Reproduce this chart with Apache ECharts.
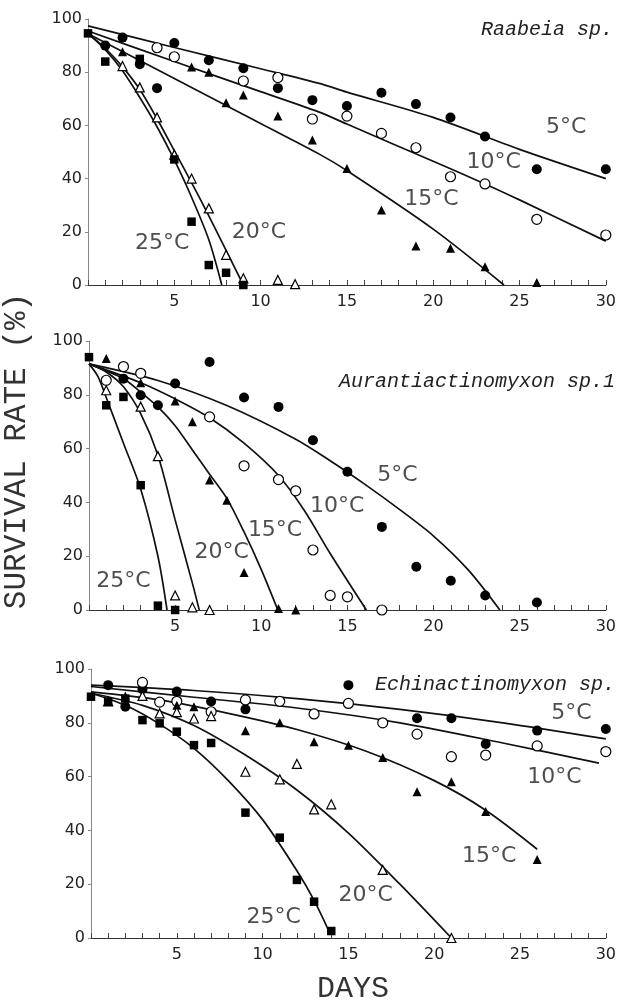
<!DOCTYPE html>
<html><head><meta charset="utf-8">
<script src="https://cdn.jsdelivr.net/npm/echarts@6/dist/echarts.min.js"></script>
<style>html,body{margin:0;padding:0;background:#fff}#c{width:619px;height:1003px}</style>
</head><body><div id="c"></div>
<script>
// ---------- tick labels ----------
const X_LABELS = [5, 10, 15, 20, 25, 30];
const Y_TICKS = [0, 20, 40, 60, 80, 100];
const TEMPS = ['5°C', '10°C', '15°C', '20°C', '25°C'];
const SPECIES = ['Raabeia sp.', 'Aurantiactinomyxon sp.1', 'Echinactinomyxon sp.'];

// ---------- Panel 1: Raabeia sp. (observed points) ----------
const r5  = [[1,90],[2,93],[3,83],[4,74],[5,91],[7,84.5],[9,81.5],[11,74],[13,69.5],[15,67.3],[17,72.3],[19,68],[21,63],[23,55.8],[26,43.5],[30,43.5]];
const r10 = [[4,89.2],[5,85.8],[9,76.7],[11,78],[13,62.4],[15,63.5],[17,57],[19,51.6],[21,40.7],[23,38],[26,24.7],[30,18.8]];
const r15 = [[2,87.7],[6,82],[7,80],[8,68.5],[9,71.4],[11,63.5],[13,54.5],[15,43.8],[17,28.2],[19,14.7],[21,13.8],[23,6.9],[26,0.9]];
const r20 = [[2,82.3],[3,74.3],[4,63],[5,49],[6,40],[7,28.8],[8,11.3],[9,2.5],[11,1.9],[12,0.3]];
const r25 = [[0,94.6],[1,84],[3,85],[5,47.2],[6,23.8],[7,7.5],[8,4.6],[9,0]];
// fitted curves
const fr5  = [[0,97.4],[5,89.3],[10,81.3],[13.4,75.8],[15,72.5],[20,63],[25,51],[30,40]];
const fr10 = [[0,95.5],[5,84],[10,72.7],[13.4,65],[15,60.5],[20,46.5],[23,38],[25,32],[30,16.5]];
const fr15 = [[0,94.5],[5,77.6],[10,60.7],[13.4,49.2],[15,43],[20,21],[24.1,0]];
const fr20 = [[0,94.5],[1,89],[2,82],[3,73.5],[4,62.5],[5,50.5],[6,38.5],[7,26],[8,13],[9,0]];
const fr25 = [[0,94.5],[1,88.5],[2,80.5],[3,70.5],[4,59.5],[5,47],[6,33],[7,17],[7.75,0]];

// ---------- Panel 2: Aurantiactinomyxon sp.1 ----------
const a5  = [[2,86],[3,79.8],[4,76.1],[5,84.2],[7,92.2],[9,79],[11,75.5],[13,63.1],[15,51.4],[17,30.9],[19,16.1],[21,10.9],[23,5.4],[26,2.8]];
const a10 = [[1,85.4],[2,90.5],[3,88],[7,71.8],[9,53.6],[11,48.5],[12,44.3],[13,22.3],[14,5.4],[15,4.9],[17,0]];
const a15 = [[1,93.5],[3,84.5],[5,77.7],[6,70],[7,48.3],[8,40.8],[9,13.9],[11,0.6],[12,0]];
const a20 = [[1,81.7],[3,75.6],[4,57.2],[5,5.4],[6,1],[7,0]];
const a25 = [[0,94],[1,76.1],[2,79.2],[3,46.4],[4,1.6],[5,0]];
const fa5  = [[0,91.5],[4,85.3],[8,76],[12,63.5],[14,55.5],[16,46.8],[18,37.5],[20,27.5],[22,15],[23.85,0]];
const fa10 = [[0,91.5],[3,84.5],[5,78.5],[7,71.5],[9,62],[11,50],[12.5,37],[14,21],[16.1,0]];
const fa15 = [[0,91.5],[2,86],[3,81],[4,75.5],[5,68.5],[6,59.5],[7,50.5],[8,41.5],[9,29],[10,15],[10.96,0]];
const fa20 = [[0,91.5],[1,88.5],[2,83],[3,73],[4,57.5],[5,33.5],[6,10],[6.4,0]];
const fa25 = [[0,91.5],[0.5,87],[1,79],[2,62],[3,45],[4,20],[4.53,0]];

// ---------- Panel 3: Echinactinomyxon sp. ----------
const e5  = [[1,94],[2,86],[3,92.5],[5,91.6],[7,87.9],[9,85],[15,94],[19,81.7],[21,81.7],[23,72.1],[26,77.1],[30,77.7]];
const e10 = [[3,95],[4,87.7],[5,88],[7,84.1],[9,88.5],[11,88],[13,83.3],[15,87.2],[17,80],[19,75.8],[21,67.4],[23,68],[26,71.4],[30,69.3]];
const e15 = [[2,90],[5,86.5],[6,86],[9,77],[11,80],[13,73],[15,71.7],[17,67.1],[19,54.4],[21,58.1],[23,47],[26,29.2]];
const e20 = [[1,88],[3,90],[4,83.5],[5,84],[6,81.6],[7,82.5],[9,61.8],[11,59],[12,64.7],[13,47.8],[14,49.7],[17,25.3],[21,0]];
const e25 = [[0,89.7],[1,87.8],[2,89],[3,81],[4,79.8],[5,76.7],[6,71.7],[7,72.5],[9,46.6],[11,37.3],[12,21.6],[13,13.5],[14,2.6]];
const fe5  = [[0,94],[6,92],[12,89],[18,85],[24,80],[30,74]];
const fe10 = [[0,93.5],[6,89.5],[12,85.5],[18,80],[24,72.5],[29.6,65]];
const fe15 = [[0,91.5],[4,88.5],[8,83.5],[12,77.5],[16,69.5],[20,58.5],[23,47.5],[26,33]];
const fe20 = [[0,91],[3,86.5],[6,79],[9,68],[12,55],[15,39],[18,20],[21,0]];
const fe25 = [[0,91],[2,86.5],[4,79.5],[6,70.5],[8,58.5],[10,44],[12,25],[13,14],[13.9,2]];

// ---------- temperature label anchors (day, %) ----------
const labR = [[27.7,59.4],[23.5,46],[19.9,32.3],[9.9,19.7],[4.3,15.8]];
const labA = [[17.9,50],[14.4,38.4],[10.8,29.7],[7.7,21.4],[2.0,10.8]];
const labE = [[28,83.6],[27,59.9],[23.2,30.5],[16,16],[10.65,7.8]];

const panels = [
  {pts:[r5,r10,r15,r20,r25], fit:[fr5,fr10,fr15,fr20,fr25], lab:labR},
  {pts:[a5,a10,a15,a20,a25], fit:[fa5,fa10,fa15,fa20,fa25], lab:labA},
  {pts:[e5,e10,e15,e20,e25], fit:[fe5,fe10,fe15,fe20,fe25], lab:labE}
];

const grids = [
  {left:88, width:518, top:19, height:266},
  {left:89, width:518, top:341, height:269},
  {left:91, width:516, top:669, height:269}
];

const markers = [
  {symbol:'circle', size:10, fill:'#000'},
  {symbol:'circle', size:10, fill:'#fff'},
  {symbol:'triangle', size:9, fill:'#000'},
  {symbol:'triangle', size:9, fill:'#fff'},
  {symbol:'rect', size:8.5, fill:'#000'}
];

const xAxis = [], yAxis = [], series = [];
grids.forEach((g, i) => {
  xAxis.push({
    type:'value', gridIndex:i, min:0, max:30, interval:1,
    axisLine:{lineStyle:{color:'#333', width:1.2}},
    axisTick:{inside:true, length:5, lineStyle:{color:'#444', width:1}},
    splitLine:{show:false},
    axisLabel:{margin:9, fontFamily:'DejaVu Sans', fontSize:16, color:'#222',
      formatter: v => (X_LABELS.indexOf(v) >= 0 ? String(v) : '')}
  });
  yAxis.push({
    type:'value', gridIndex:i, min:Y_TICKS[0], max:Y_TICKS[Y_TICKS.length-1], interval:20,
    axisLine:{show:true, lineStyle:{color:'#888', width:1}},
    axisTick:{show:true, length:3, lineStyle:{color:'#888'}},
    splitLine:{show:false},
    axisLabel:{margin:6, fontFamily:'DejaVu Sans', fontSize:16, color:'#222'}
  });
  const p = panels[i];
  p.fit.forEach(f => series.push({
    type:'line', xAxisIndex:i, yAxisIndex:i, data:f, smooth:0.3, showSymbol:false,
    lineStyle:{color:'#111', width:1.7}, z:2, silent:true
  }));
  p.pts.forEach((d, k) => {
    const m = markers[k];
    series.push({
      type:'scatter', xAxisIndex:i, yAxisIndex:i, data:d, symbol:m.symbol, symbolSize:m.size,
      itemStyle:{color:m.fill, borderColor:'#000', borderWidth: m.fill === '#fff' ? 1.2 : 0, opacity:1},
      z:4, silent:true
    });
  });
  series.push({
    type:'scatter', xAxisIndex:i, yAxisIndex:i, symbolSize:0, z:5, silent:true,
    data: p.lab.map((c, k) => ({value:c, label:{formatter:TEMPS[k]}})),
    label:{show:true, position:'inside', fontFamily:'DejaVu Sans', fontSize:22, color:'#222'}
  });
});

const chart = echarts.init(document.getElementById('c'), null, {renderer:'canvas'});
chart.setOption({
  animation:false,
  backgroundColor:'#fff',
  grid:grids, xAxis, yAxis, series,
  graphic:[
    {type:'text', x:613, y:30, style:{text:SPECIES[0], font:'italic 20px "Liberation Mono"', fill:'#222', textAlign:'right', textVerticalAlign:'middle'}},
    {type:'text', x:615, y:382, style:{text:SPECIES[1], font:'italic 20px "Liberation Mono"', fill:'#222', textAlign:'right', textVerticalAlign:'middle'}},
    {type:'text', x:615, y:685, style:{text:SPECIES[2], font:'italic 20px "Liberation Mono"', fill:'#222', textAlign:'right', textVerticalAlign:'middle'}},
    {type:'text', x:17, y:451, rotation:Math.PI/2, style:{text:'SURVIVAL RATE (%)', font:'31px "Liberation Mono"', fill:'#333', textAlign:'center', textVerticalAlign:'middle'}},
    {type:'text', x:353, y:989, style:{text:'DAYS', font:'30px "Liberation Mono"', fill:'#333', textAlign:'center', textVerticalAlign:'middle'}}
  ]
});
</script></body></html>
